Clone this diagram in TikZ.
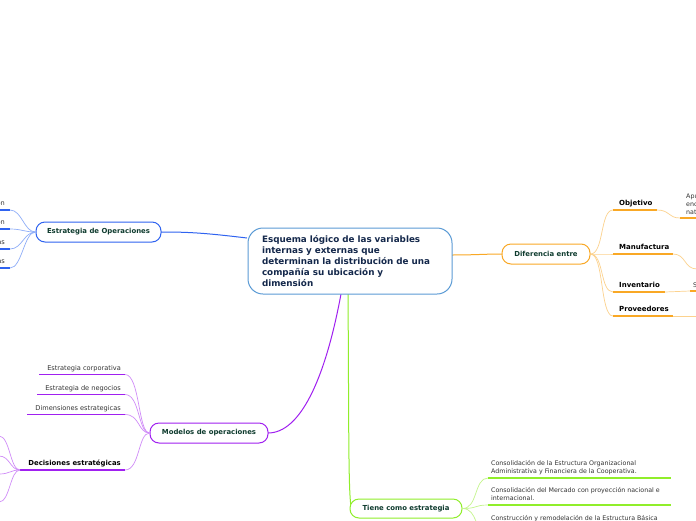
\documentclass[tikz,border=0pt]{standalone}
\usepackage{fontspec}
\setmainfont{DejaVu Sans}
\definecolor{cblue}{HTML}{5B9BD5}
\definecolor{sblue}{HTML}{2F63F0}
\definecolor{lblue}{HTML}{8FAEF8}
\definecolor{corange}{HTML}{F9A825}
\definecolor{lorange}{HTML}{FCD28E}
\definecolor{cpurple}{HTML}{A020F0}
\definecolor{lpurple}{HTML}{D08CF8}
\definecolor{cgreen}{HTML}{90EE2A}
\definecolor{lgreen}{HTML}{C4F58C}
\definecolor{tgreen}{HTML}{0E3B2E}
\definecolor{tnavy}{HTML}{14284B}
\definecolor{tgray}{HTML}{333333}
\tikzset{
  hub/.style={draw=#1, line width=1pt, rounded corners=9pt, fill=white, text=tgreen,
    font=\fontsize{6.9}{8}\selectfont\bfseries, minimum height=20pt, inner sep=0pt},
  leaf/.style={anchor=base west, inner sep=0pt, text=tgray, font=\fontsize{6.3}{8}\selectfont},
  leafr/.style={anchor=base east, inner sep=0pt, text=tgray, font=\fontsize{6.6}{8}\selectfont},
  bleaf/.style={anchor=base west, inner sep=0pt, text=black, font=\fontsize{7}{8}\selectfont\bfseries},
  uline/.style={draw=#1, line width=1.6pt},
  twig/.style={draw=#1, line width=0.7pt},
}
\begin{document}
\begin{tikzpicture}[x=1pt,y=-1pt]
\useasboundingbox (0,0) rectangle (696,520);
\clip (0,0) rectangle (696,520);
\fill[white] (0,0) rectangle (696,520);

% ---------- connectors from the centre ----------
\coordinate (cL) at (247,238);
\coordinate (cR) at (451,255);
\coordinate (cB1) at (341,294);
\coordinate (cB2) at (348,294);
\draw[twig=sblue, line width=1pt] (cL) .. controls (205,233) and (190,232) .. (161,232);
\draw[twig=corange, line width=1pt] (cR) .. controls (475,255) and (485,254) .. (502,254);
\draw[twig=cpurple, line width=1pt] (cB1) .. controls (325,380) and (300,433) .. (268,433);
\draw[twig=cgreen, line width=1pt] (cB2) .. controls (349,420) and (348,508) .. (352,508);

% ---------- central node ----------
\node[draw=cblue, line width=1pt, rounded corners=15pt, fill=white, minimum width=204pt,
  minimum height=66pt, text width=176pt, align=left, inner sep=0pt, text=tnavy,
  font=\fontsize{8.8}{11}\selectfont\bfseries] (c) at (350,261)
  {Esquema lógico de las variables\\ internas y externas que\\ determinan la distribución de una\\ compañía su ubicación y\\ dimensión};

% ---------- Estrategia de Operaciones ----------
\node[hub=sblue, minimum width=125pt] (eo) at (98.5,232) {Estrategia de Operaciones};
\foreach \y/\t [count=\i] in {210/on,229/on,249/as,268/as}{
  \coordinate (eoA\i) at (0,\y);
  \coordinate (eoB\i) at (10,\y);
  \draw[twig=lblue] (eo.west) .. controls (24,232) and (22,\y) .. (eoB\i);
  \draw[uline=sblue] (eoA\i) -- (eoB\i);
  \node[leafr] (eot\i) at (5,\y-4.5) {\t};
}

% ---------- Diferencia entre ----------
\node[hub=corange, minimum width=88pt] (de) at (546,254) {Diferencia entre};
\foreach \y/\e/\t [count=\i] in {210/657/Objetivo,254/673/Manufactura,292/665/Inventario,316/673/Proveedores}{
  \coordinate (deA\i) at (613,\y);
  \coordinate (deB\i) at (\e,\y);
  \draw[twig=lorange] (de.east) .. controls (604,254) and (600,\y) .. (deA\i);
  \draw[uline=corange] (deA\i) -- (deB\i);
  \node[bleaf] (det\i) at (619,\y-4.5) {\t};
}
% further twigs
\coordinate (ob1) at (680,218); \coordinate (ob2) at (697,218);
\draw[twig=lorange] (deB1) .. controls (670,210) and (668,218) .. (ob1);
\draw[uline=corange] (ob1) -- (ob2);
\node[leaf] (obt) at (686,198.5) {Apu};
\node[leaf] (obt2) at (686,206.5) {enc};
\node[leaf] (obt3) at (686,214.5) {nat};
\coordinate (mf1) at (697,269);
\draw[twig=lorange] (deB2) .. controls (686,254) and (684,269) .. (mf1);
\coordinate (iv1) at (690,291); \coordinate (iv2) at (697,291);
\draw[twig=lorange] (deB3) -- (iv1);
\draw[uline=corange] (iv1) -- (iv2);
\node[leaf] (ivt) at (693,287) {S};
\coordinate (pv1) at (697,316);
\draw[twig=lorange] (deB4) -- (pv1);

% ---------- Modelos de operaciones ----------
\node[hub=cpurple, minimum width=118pt] (mo) at (209,433) {Modelos de operaciones};
\foreach \y/\s/\t [count=\i] in {374.5/39/Estrategia corporativa,394.5/37/Estrategia de negocios,414.5/27/Dimensiones estrategicas}{
  \coordinate (moA\i) at (\s,\y);
  \coordinate (moB\i) at (125,\y);
  \draw[twig=lpurple] (mo.west) .. controls (138,433) and (140,\y) .. (moB\i);
  \draw[uline=cpurple] (moA\i) -- (moB\i);
  \node[leafr] (mot\i) at (121,\y-4.5) {\t};
}
\coordinate (moA4) at (20,470);
\coordinate (moB4) at (125,470);
\draw[twig=lpurple] (mo.west) .. controls (138,433) and (140,470) .. (moB4);
\draw[uline=cpurple] (moA4) -- (moB4);
\node[anchor=base east, inner sep=0pt, text=black, font=\fontsize{6.9}{8}\selectfont\bfseries] (mot4) at (121,465.5) {Decisiones estratégicas};
\foreach \y [count=\i] in {436,456,474,502}{
  \coordinate (dsA\i) at (-1,\y);
  \draw[twig=lpurple] (moA4) .. controls (10,470) and (10,\y) .. (dsA\i);
}

% ---------- Tiene como estrategia ----------
\node[hub=cgreen, minimum width=112pt, minimum height=19pt] (te) at (406,508.5) {Tiene como estrategia};
\foreach \y [count=\i] in {478,505,533}{
  \coordinate (teA\i) at (488,\y);
  \coordinate (teB\i) at (671,\y);
  \draw[twig=lgreen] (te.east) .. controls (478,508.5) and (474,\y) .. (teA\i);
  \draw[uline=cgreen] (teA\i) -- (teB\i);
}
\node[leaf] (tet1a) at (491,465.5) {Consolidación de la Estructura Organizacional};
\node[leaf] (tet1b) at (491,473.5) {Administrativa y Financiera de la Cooperativa.};
\node[leaf] (tet2a) at (491,492.5) {Consolidación del Mercado con proyección nacional e};
\node[leaf] (tet2b) at (491,500.5) {internacional.};
\node[leaf] (tet3a) at (491,520.5) {Construcción y remodelación de la Estructura Básica};
\end{tikzpicture}
\end{document}
